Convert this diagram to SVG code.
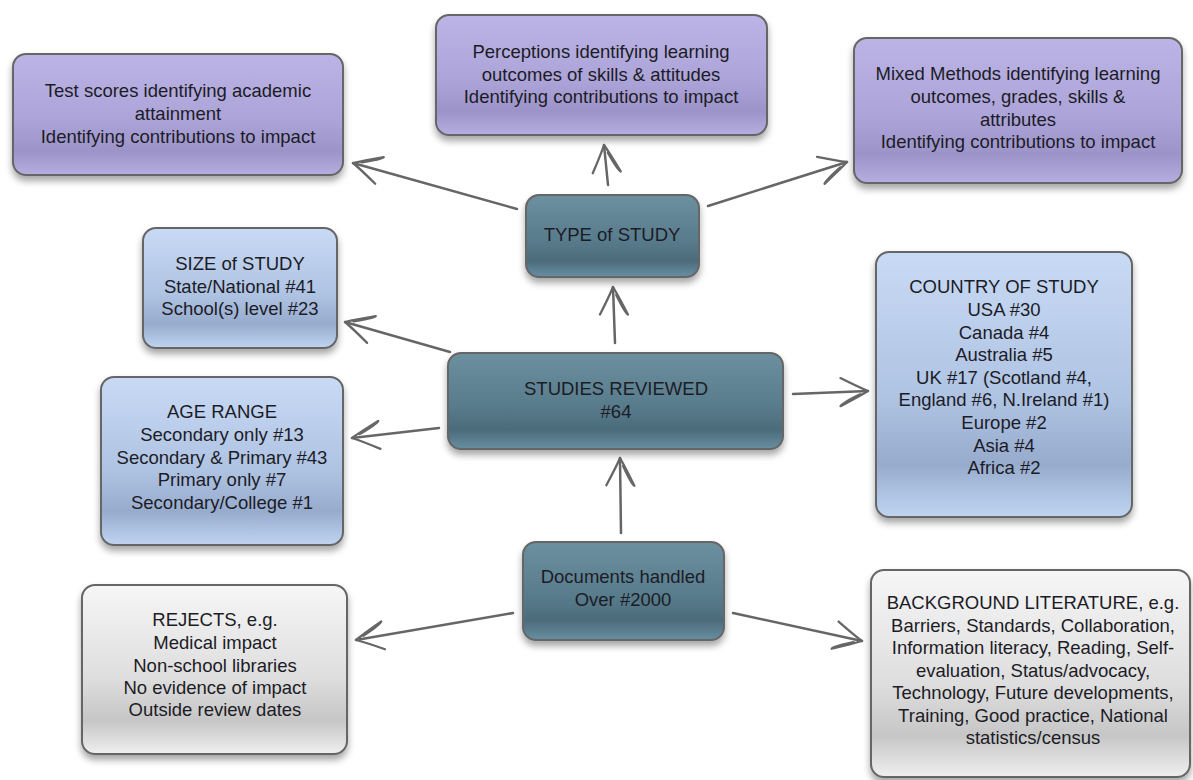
<svg xmlns="http://www.w3.org/2000/svg" width="1193" height="780" viewBox="0 0 1193 780">
<style>
  .box { stroke: #666; stroke-width: 2; filter: url(#shadow); }
  .purple { fill: url(#gPurple); }
  .blue { fill: url(#gBlue); }
  .teal { fill: url(#gTeal); }
  .gray { fill: url(#gGray); }
  text { font-family: "Liberation Sans", Arial, sans-serif; font-size: 18.5px; fill: #1c1c26; text-anchor: middle; }
  .conn { fill: none; stroke: #666; stroke-width: 2.5; stroke-linecap: round; marker-end: url(#arr); }
</style>
<defs>
  <filter id="shadow" x="-10%" y="-10%" width="120%" height="130%">
    <feDropShadow dx="0" dy="5" stdDeviation="3.5" flood-color="#000" flood-opacity="0.35"/>
  </filter>
  <linearGradient id="gPurple" x1="0" y1="0" x2="0" y2="1">
    <stop offset="0" stop-color="#bcb4e6"/>
    <stop offset="0.55" stop-color="#aca4d8"/>
    <stop offset="0.8" stop-color="#9c94c8"/>
    <stop offset="1" stop-color="#b6aee0"/>
  </linearGradient>
  <linearGradient id="gBlue" x1="0" y1="0" x2="0" y2="1">
    <stop offset="0" stop-color="#c8daf4"/>
    <stop offset="0.55" stop-color="#afc3e3"/>
    <stop offset="0.8" stop-color="#97abcd"/>
    <stop offset="1" stop-color="#c0d4f2"/>
  </linearGradient>
  <linearGradient id="gTeal" x1="0" y1="0" x2="0" y2="1">
    <stop offset="0" stop-color="#6c909f"/>
    <stop offset="0.55" stop-color="#587c8c"/>
    <stop offset="0.8" stop-color="#4b6b7a"/>
    <stop offset="1" stop-color="#6890a2"/>
  </linearGradient>
  <linearGradient id="gGray" x1="0" y1="0" x2="0" y2="1">
    <stop offset="0" stop-color="#f6f6f6"/>
    <stop offset="0.55" stop-color="#dedede"/>
    <stop offset="0.8" stop-color="#c6c6c6"/>
    <stop offset="1" stop-color="#efefef"/>
  </linearGradient>
  <marker id="arr" markerUnits="userSpaceOnUse" markerWidth="44" markerHeight="44" viewBox="-36 -22 44 44" refX="0" refY="0" orient="auto" overflow="visible">
    <path d="M-27,-14 Q-9,-4 0,0 Q-9,5 -28,14 Q-26,11 -8,3" fill="none" stroke="#666" stroke-width="2.3" stroke-linecap="round" stroke-linejoin="round"/>
  </marker>
</defs>

<g id="connectors">
  <line class="conn" x1="517" y1="209" x2="353" y2="163"/>
  <line class="conn" x1="608" y1="185" x2="604" y2="145"/>
  <line class="conn" x1="708" y1="206" x2="847" y2="162"/>
  <line class="conn" x1="615" y1="343" x2="613" y2="287"/>
  <line class="conn" x1="450" y1="352" x2="345" y2="322"/>
  <line class="conn" x1="439" y1="428" x2="352" y2="438"/>
  <line class="conn" x1="793" y1="394" x2="868" y2="391"/>
  <line class="conn" x1="621" y1="533" x2="620" y2="458"/>
  <line class="conn" x1="513" y1="613" x2="356" y2="640"/>
  <line class="conn" x1="733" y1="613" x2="862" y2="641"/>
</g>

<g id="test-scores">
  <rect class="box purple" x="13" y="54" width="330" height="121" rx="13"/>
  <text x="178" y="97">Test scores identifying academic</text>
  <text x="178" y="120">attainment</text>
  <text x="178" y="143">Identifying contributions to impact</text>
</g>

<g id="perceptions">
  <rect class="box purple" x="436" y="15" width="331" height="120" rx="13"/>
  <text x="601" y="58">Perceptions identifying learning</text>
  <text x="601" y="81">outcomes of skills &amp; attitudes</text>
  <text x="601" y="103">Identifying contributions to impact</text>
</g>

<g id="mixed-methods">
  <rect class="box purple" x="854" y="38" width="328" height="145" rx="13"/>
  <text x="1018" y="80">Mixed Methods identifying learning</text>
  <text x="1018" y="103">outcomes, grades, skills &amp;</text>
  <text x="1018" y="126">attributes</text>
  <text x="1018" y="148">Identifying contributions to impact</text>
</g>

<g id="type-of-study">
  <rect class="box teal" x="526" y="195" width="173" height="82" rx="13"/>
  <text x="612" y="241">TYPE of STUDY</text>
</g>

<g id="size-of-study">
  <rect class="box blue" x="143" y="228" width="194" height="120" rx="13"/>
  <text x="240" y="270">SIZE of STUDY</text>
  <text x="240" y="293">State/National #41</text>
  <text x="240" y="315">School(s) level #23</text>
</g>

<g id="studies-reviewed">
  <rect class="box teal" x="448" y="353" width="335" height="96" rx="13"/>
  <text x="616" y="395">STUDIES REVIEWED</text>
  <text x="616" y="418">#64</text>
</g>

<g id="country-of-study">
  <rect class="box blue" x="876" y="252" width="256" height="265" rx="13"/>
  <text x="1004" y="293">COUNTRY OF STUDY</text>
  <text x="1004" y="316">USA #30</text>
  <text x="1004" y="339">Canada #4</text>
  <text x="1004" y="361">Australia #5</text>
  <text x="1004" y="384">UK #17 (Scotland #4,</text>
  <text x="1004" y="406">England #6, N.Ireland #1)</text>
  <text x="1004" y="429">Europe #2</text>
  <text x="1004" y="452">Asia #4</text>
  <text x="1004" y="474">Africa #2</text>
</g>

<g id="age-range">
  <rect class="box blue" x="101" y="377" width="242" height="168" rx="13"/>
  <text x="222" y="418">AGE RANGE</text>
  <text x="222" y="441">Secondary only #13</text>
  <text x="222" y="464">Secondary &amp; Primary #43</text>
  <text x="222" y="486">Primary only #7</text>
  <text x="222" y="509">Secondary/College #1</text>
</g>

<g id="documents-handled">
  <rect class="box teal" x="523" y="542" width="201" height="98" rx="13"/>
  <text x="623" y="583">Documents handled</text>
  <text x="623" y="606">Over #2000</text>
</g>

<g id="rejects">
  <rect class="box gray" x="82" y="585" width="265" height="169" rx="13"/>
  <text x="215" y="626">REJECTS, e.g.</text>
  <text x="215" y="649">Medical impact</text>
  <text x="215" y="672">Non-school libraries</text>
  <text x="215" y="694">No evidence of impact</text>
  <text x="215" y="716">Outside review dates</text>
</g>

<g id="background-literature">
  <rect class="box gray" x="871" y="570" width="319" height="207" rx="13"/>
  <text x="1033" y="609">BACKGROUND LITERATURE, e.g.</text>
  <text x="1033" y="632">Barriers, Standards, Collaboration,</text>
  <text x="1033" y="654">Information literacy, Reading, Self-</text>
  <text x="1033" y="677">evaluation, Status/advocacy,</text>
  <text x="1033" y="699">Technology, Future developments,</text>
  <text x="1033" y="722">Training, Good practice, National</text>
  <text x="1033" y="744">statistics/census</text>
</g>
</svg>
